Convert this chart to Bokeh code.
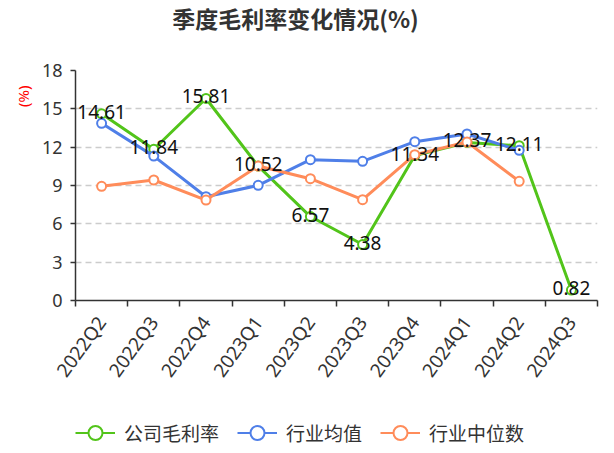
import math
from bokeh.plotting import figure
from bokeh.layouts import column
from bokeh.models import Range1d, FixedTicker, Title, Label, Legend, LegendItem, ColumnDataSource
from bokeh.core.properties import value
from bokeh.embed import file_html
from bokeh.resources import INLINE

quarters = ["2022Q2", "2022Q3", "2022Q4", "2023Q1", "2023Q2",
            "2023Q3", "2023Q4", "2024Q1", "2024Q2", "2024Q3"]
company = [14.61, 11.84, 15.81, 10.52, 6.57, 4.38, 11.34, 12.37, 12.11, 0.82]
ind_mean = [13.87, 11.30, 8.12, 9.01, 11.02, 10.89, 12.43, 13.03, 11.75]
ind_median = [8.94, 9.43, 7.86, 10.52, 9.53, 7.89, 11.41, 12.40, 9.33]
y_ticks = [0, 3, 6, 9, 12, 15, 18]

title_text = "季度毛利率变化情况(%)"
names = ["公司毛利率", "行业均值", "行业中位数"]
colors = ["#52c41a", "#4f7fe8", "#ff8c5a"]
CJK = "Noto Sans CJK SC"
LAT = "Noto Sans"

# ---- title strip ----
tf = figure(width=614, height=35, output_backend="svg", toolbar_location=None,
            x_range=Range1d(75, 597), y_range=Range1d(0, 35),
            x_axis_type=None, y_axis_type=None,
            min_border_left=75, min_border_right=17,
            min_border_top=0, min_border_bottom=0)
tf.outline_line_color = None
tf.xgrid.grid_line_color = None
tf.ygrid.grid_line_color = None
tf.add_layout(Label(x=295, y=18, text=title_text, text_align="center",
                    text_baseline="middle", text_font=CJK,
                    text_font_size="23px", text_font_style="bold",
                    text_color="#333333"))

# ---- main chart ----
p = figure(width=614, height=375, output_backend="svg", toolbar_location=None,
           x_range=Range1d(0, len(quarters)), y_range=Range1d(0, 18),
           min_border_left=75, min_border_right=17, min_border_top=35,
           min_border_bottom=110)
p.outline_line_color = None
p.background_fill_color = "white"
p.border_fill_color = "white"
p.xgrid.grid_line_color = None
p.ygrid.grid_line_color = "#cccccc"
p.ygrid.grid_line_dash = "6 4"
p.ygrid.grid_line_width = 1.5

centers = [i + 0.5 for i in range(len(quarters))]
bounds = [i for i in range(len(quarters) + 1)]

p.xaxis.ticker = FixedTicker(ticks=centers, minor_ticks=bounds)
p.xaxis.major_label_overrides = {c: q for c, q in zip(centers, quarters)}
p.xaxis.major_tick_out = 0
p.xaxis.major_tick_in = 0
p.xaxis.minor_tick_out = 6
p.xaxis.minor_tick_in = 0
p.xaxis.minor_tick_line_color = "#333333"
p.xaxis.minor_tick_line_width = 1.5
p.xaxis.major_label_orientation = math.radians(54)
p.xaxis.major_label_standoff = 12
p.xaxis.major_label_text_font = LAT
p.xaxis.major_label_text_font_size = "19px"
p.xaxis.major_label_text_color = "#333333"
p.xaxis.axis_line_color = "#333333"
p.xaxis.axis_line_width = 1.5

p.yaxis.ticker = FixedTicker(ticks=y_ticks)
p.yaxis.minor_tick_line_color = None
p.yaxis.major_tick_out = 5
p.yaxis.major_tick_in = 0
p.yaxis.major_tick_line_color = "#333333"
p.yaxis.major_tick_line_width = 1.5
p.yaxis.axis_line_color = "#333333"
p.yaxis.axis_line_width = 1.5
p.yaxis.major_label_standoff = 8
p.yaxis.major_label_text_font = LAT
p.yaxis.major_label_text_font_size = "18px"
p.yaxis.major_label_text_color = "#333333"

series = [company, ind_mean, ind_median]
sources = []
for name, data, col in zip(names, series, colors):
    src = ColumnDataSource(dict(x=centers[:len(data)], y=data))
    sources.append(src)
    p.line("x", "y", source=src, line_color=col, line_width=3)
    p.scatter("x", "y", source=src, size=9, marker="circle",
              fill_color="white", line_color=col, line_width=2)

lab_src = ColumnDataSource(dict(x=centers, y=company,
                                t=["%.2f" % v for v in company]))
p.text("x", "y", text="t", source=lab_src, text_align="center",
       text_baseline="middle", text_font=value(LAT), text_font_size="19px",
       text_color="#111111", y_offset=-2)

ylab = Title(text="(%)", align="right", offset=15, standoff=11,
             text_font=LAT, text_font_size="15px", text_color="red",
             text_font_style="normal")
p.add_layout(ylab, "left")

# ---- legend strip (same series, drawn out of view; only the legend shows) ----
lg = figure(width=614, height=43, output_backend="svg", toolbar_location=None,
            x_range=Range1d(1000, 1001), y_range=Range1d(1000, 1001),
            x_axis_type=None, y_axis_type=None,
            min_border_left=75, min_border_right=17,
            min_border_top=0, min_border_bottom=0)
lg.outline_line_color = None
lg.xgrid.grid_line_color = None
lg.ygrid.grid_line_color = None
items = []
for name, src, col in zip(names, sources, colors):
    ln = lg.line("x", "y", source=src, line_color=col, line_width=2)
    sc = lg.scatter("x", "y", source=src, size=14, marker="circle",
                    fill_color="white", line_color=col, line_width=2)
    items.append(LegendItem(label=name, renderers=[ln, sc]))
legend = Legend(items=items, orientation="horizontal", location=(0, 3),
                glyph_width=40, glyph_height=35, label_height=35,
                label_standoff=9, spacing=18, padding=0, margin=0,
                border_line_color=None, background_fill_alpha=0,
                label_text_font=CJK, label_text_font_size="19px",
                label_text_color="#333333")
lg.add_layout(legend, "center")

layout = column(tf, p, lg, spacing=0)
open("out.html", "w").write(file_html(layout, INLINE))
